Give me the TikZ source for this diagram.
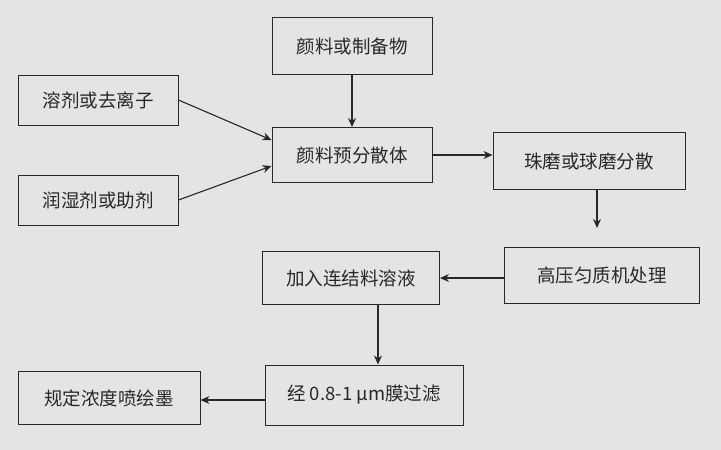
\documentclass[tikz,border=0pt]{standalone}
\usepackage{fontspec}
\setmainfont{Noto Sans CJK SC}
\usetikzlibrary{arrows.meta}
\definecolor{paper}{RGB}{228,228,226}
\definecolor{ink}{RGB}{40,40,40}
\begin{document}
\begin{tikzpicture}[x=1pt,y=-1pt,
  box/.style={draw=ink,line width=1pt,fill=paper,text=ink,font=\fontsize{18.5}{22}\selectfont,inner sep=0pt},
  arr/.style={draw=ink,line width=1.1pt,-{Stealth[length=9pt,width=8pt]}}]
\fill[paper] (0,0) rectangle (721,450);
\useasboundingbox (0,0) rectangle (721,450);
\node[box,minimum width=160,minimum height=57] (a) at (352,46) {颜料或制备物};
\node[box,minimum width=160,minimum height=50] (b) at (98,100) {溶剂或去离子};
\node[box,minimum width=160,minimum height=50] (c) at (98,200) {润湿剂或助剂};
\node[box,minimum width=160,minimum height=55] (d) at (352,155) {颜料预分散体};
\node[box,minimum width=192,minimum height=57] (e) at (589,161) {珠磨或球磨分散};
\node[box,minimum width=195,minimum height=56] (f) at (602,275) {高压匀质机处理};
\node[box,minimum width=177,minimum height=53] (g) at (351,278) {加入连结料溶液};
\node[box,minimum width=198,minimum height=60] (h) at (364,395) {经 0.8-1 μm膜过滤};
\node[box,minimum width=182,minimum height=53] (i) at (109,398) {规定浓度喷绘墨};
\coordinate (ef) at (597,228);
\draw[arr] (a.south) -- (d.north);
\draw[arr] (b.east) -- (d.west |- 0,140);
\draw[arr] (c.east) -- (d.west |- 0,166);
\draw[arr] (d.east) -- (e.west |- d.east);
\draw[arr] (e.south -| ef) -- (ef);
\draw[arr] (f.west |- 0,278) -- (g.east);
\draw[arr] (g.south -| 378,0) -- (h.north -| 378,0);
\draw[arr] (h.west |- 0,400) -- (i.east |- 0,400);
\end{tikzpicture}
\end{document}
